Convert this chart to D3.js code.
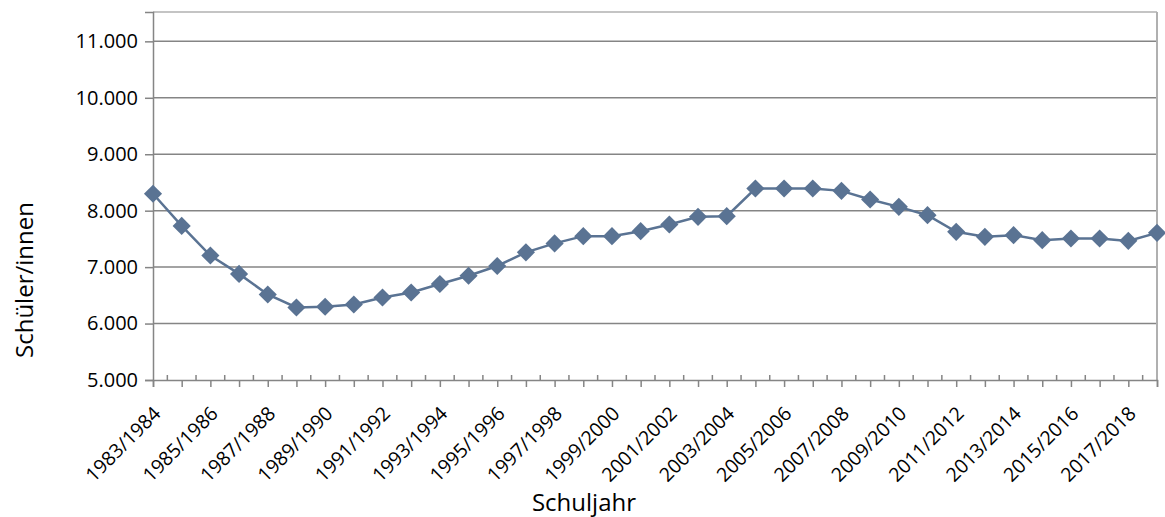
<!DOCTYPE html>
<html>
<head>
<meta charset="utf-8">
<script src="https://cdn.jsdelivr.net/npm/d3@7"></script>
<style>
  body { margin: 0; background: #fff; }
  svg text { font-family: "Open Sans", sans-serif; fill: #000; }
</style>
</head>
<body>
<svg width="1165" height="517"></svg>
<script>
var years = d3.range(1983, 2019);
var labels = years.map(function(y) { return y + "/" + (y + 1); });
var values = [8300, 7730, 7205, 6880, 6515, 6285, 6298, 6338, 6462, 6550,
              6700, 6847, 7020, 7262, 7420, 7549, 7549, 7637, 7755, 7891,
              7903, 8393, 8393, 8393, 8351, 8198, 8068, 7920, 7625, 7537,
              7566, 7478, 7507, 7507, 7465, 7607];
var yTicks = [5000, 6000, 7000, 8000, 9000, 10000, 11000];

var svg = d3.select("svg"),
    margin = {top: 12, right: 8, bottom: 137, left: 153},
    width = +svg.attr("width") - margin.left - margin.right,
    height = +svg.attr("height") - margin.top - margin.bottom;

var g = svg.append("g").attr("transform", "translate(" + margin.left + "," + margin.top + ")");

var x = d3.scalePoint().domain(labels).range([0, width]);
var y = d3.scaleLinear().domain([5000, 11520]).range([height, 0]);

var de = d3.formatLocale({decimal: ",", thousands: ".", grouping: [3], currency: ["", " €"]});
var fmt = de.format(",.0f");

// gridlines
g.append("g").selectAll("line")
  .data(yTicks.slice(1))
  .enter().append("line")
    .attr("x1", 0).attr("x2", width)
    .attr("y1", function(d) { return y(d); })
    .attr("y2", function(d) { return y(d); })
    .attr("stroke", "#858585").attr("stroke-width", 1.5);

// frame top/right
g.append("line").attr("x1", 0).attr("x2", width).attr("y1", 0).attr("y2", 0)
  .attr("stroke", "#b0b0b0").attr("stroke-width", 1.5);
g.append("line").attr("x1", width).attr("x2", width).attr("y1", 0).attr("y2", height)
  .attr("stroke", "#b0b0b0").attr("stroke-width", 2);

// y axis
var yAxis = g.append("g")
  .call(d3.axisLeft(y).tickValues(yTicks).tickFormat(fmt).tickSize(8).tickPadding(7));
yAxis.select(".domain").attr("stroke", "#858585").attr("stroke-width", 1.5);
yAxis.selectAll(".tick line").attr("stroke", "#858585").attr("stroke-width", 1.5);
yAxis.selectAll("text").style("font-size", "20px").attr("fill", "#000");

// x axis: major ticks downward at categories, minor ticks upward between
var xAxis = g.append("g").attr("transform", "translate(0," + height + ")")
  .call(d3.axisBottom(x).tickSize(7).tickFormat(""));
xAxis.select(".domain").attr("stroke", "#858585").attr("stroke-width", 1.5);
xAxis.selectAll(".tick line").attr("stroke", "#858585").attr("stroke-width", 1.5);

var step = x.step();
xAxis.append("g").selectAll("line")
  .data(labels.slice(1))
  .enter().append("line")
    .attr("x1", function(d) { return x(d) - step / 2; })
    .attr("x2", function(d) { return x(d) - step / 2; })
    .attr("y1", 0).attr("y2", -5)
    .attr("stroke", "#858585").attr("stroke-width", 1.5);

g.append("g").selectAll("text")
  .data(labels.filter(function(d, i) { return i % 2 === 0; }))
  .enter().append("text")
    .attr("transform", function(d) { return "translate(" + (x(d) + 4) + "," + (height + 30) + ") rotate(-45)"; })
    .attr("text-anchor", "end")
    .attr("dy", "0.35em")
    .style("font-size", "19.5px")
    .text(function(d) { return d; });

// line and markers
var line = d3.line()
  .x(function(d, i) { return x(labels[i]); })
  .y(function(d) { return y(d); });

g.append("path")
  .datum(values)
  .attr("fill", "none")
  .attr("stroke", "#5a7393")
  .attr("stroke-width", 2.5)
  .attr("d", line);

var diamond = d3.symbol().type(d3.symbolDiamond2).size(210);
g.append("g").selectAll("path")
  .data(values)
  .enter().append("path")
    .attr("d", diamond)
    .attr("transform", function(d, i) { return "translate(" + x(labels[i]) + "," + y(d) + ")"; })
    .attr("fill", "#5a7393");

// axis titles
svg.append("text")
  .attr("x", 584).attr("y", 511)
  .attr("text-anchor", "middle")
  .style("font-size", "24px")
  .text("Schuljahr");

svg.append("text")
  .attr("transform", "translate(33,280) rotate(-90)")
  .attr("text-anchor", "middle")
  .style("font-size", "24px")
  .text("Schüler/innen");
</script>
</body>
</html>
